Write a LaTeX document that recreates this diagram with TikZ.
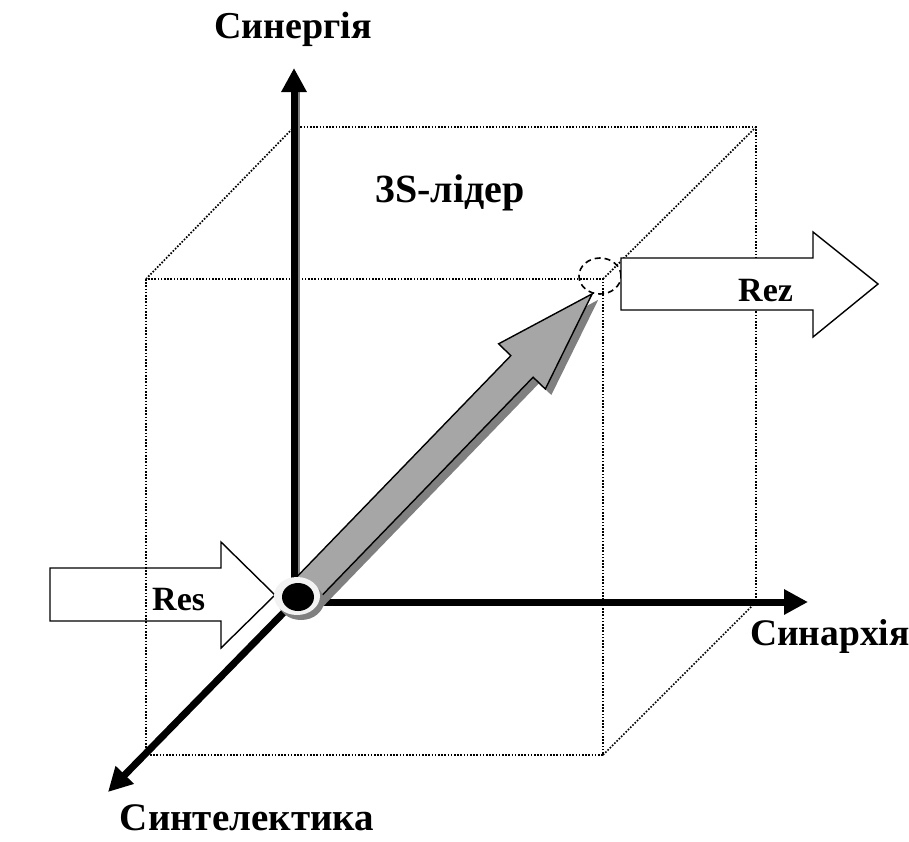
\documentclass[tikz,border=0pt]{standalone}
\usepackage{fontspec}
\setmainfont{Liberation Serif}
\usetikzlibrary{arrows.meta}
\definecolor{ink}{RGB}{0,0,0}
\definecolor{arrowgray}{RGB}{166,166,166}
\definecolor{shadowgray}{RGB}{128,128,128}
\definecolor{ringgray}{RGB}{242,242,242}

\begin{document}
\begin{tikzpicture}[x=1pt,y=-1pt,
  every node/.style={font=\fontsize{34}{40}\selectfont\bfseries,inner sep=0pt},
  big/.style={font=\fontsize{#1}{#1}\selectfont\bfseries},
  axis/.style={line width=7pt,draw=ink,-{Triangle[length=24pt,width=24pt]}},
  cube/.style={draw=ink,line width=1.7pt,dash pattern=on 1.6pt off 1.6pt},
  blockarrow/.style={draw=ink,line width=1.4pt,line join=miter},
  ring/.style={draw=ink,line width=1.6pt,dash pattern=on 6pt off 4pt}
]
\useasboundingbox (0,0) rectangle (909,841);

% axis ends
\coordinate (o) at (294,602);
\coordinate (ytip) at (294,68);
\coordinate (xtip) at (808,602);
\coordinate (ztip) at (108,792);
\coordinate (g) at (296,600);
\coordinate (gs) at (302,606);

% dotted cube
\draw[cube] (146,279) rectangle (603,755);
\draw[cube] (294,127) -- (756,127) -- (756,602);
\draw[cube] (146,279) -- (294,127);
\draw[cube] (603,279) -- (756,127);
\draw[cube] (603,755) -- (756,602);

% input arrow
\draw[blockarrow] (50,568) -- (221,568) -- (221,542) -- (275,595)
  -- (221,648) -- (221,621) -- (50,621) -- cycle;

% axes
\draw[shadowgray,line width=2pt] (298.5,602) -- (298.5,90);
\draw[axis] (o) -- (ytip);
\draw[axis] (o) -- (xtip);
\draw[axis] (o) -- (ztip);

% growth arrow with its shadow
\begin{scope}[shift={(gs)},rotate=45.95]
  \fill[shadowgray] (0,-15.5) -- (325,-15.5) -- (325,-32.5) -- (426,0)
    -- (325,32.5) -- (325,15.5) -- (0,15.5) -- cycle;
\end{scope}
\begin{scope}[shift={(g)},rotate=45.95]
  \draw[blockarrow,fill=arrowgray] (0,-15.5) -- (325,-15.5) -- (325,-32.5) -- (426,0)
    -- (325,32.5) -- (325,15.5) -- (0,15.5) -- cycle;
\end{scope}

% origin point
\fill[shadowgray] (301,601) ellipse [x radius=23pt,y radius=19pt];
\fill[ringgray] (297,596) ellipse [x radius=23pt,y radius=19pt];
\fill[ink] (298,597) ellipse [x radius=16pt,y radius=14pt];

% target ring and output arrow
\draw[ring] (600,276) ellipse [x radius=21pt,y radius=18pt];
\draw[blockarrow,fill=white] (621,258) -- (813,258) -- (813,232) -- (878,284)
  -- (813,337) -- (813,310) -- (621,310) -- cycle;

% labels
\node[big=38,anchor=base] (synergy) at (293,38) {Синергія};
\node[big=40,anchor=base] (leader) at (450,202) {3S-лідер};
\node[big=37.5,anchor=base west] (synarchy) at (750,645) {Синархія};
\node[big=39,anchor=base] (syntel) at (247,830) {Синтелектика};
\node[anchor=base west] (res) at (152,610) {Res};
\node[anchor=base west] (rez) at (738,301) {Rez};
\end{tikzpicture}
\end{document}
